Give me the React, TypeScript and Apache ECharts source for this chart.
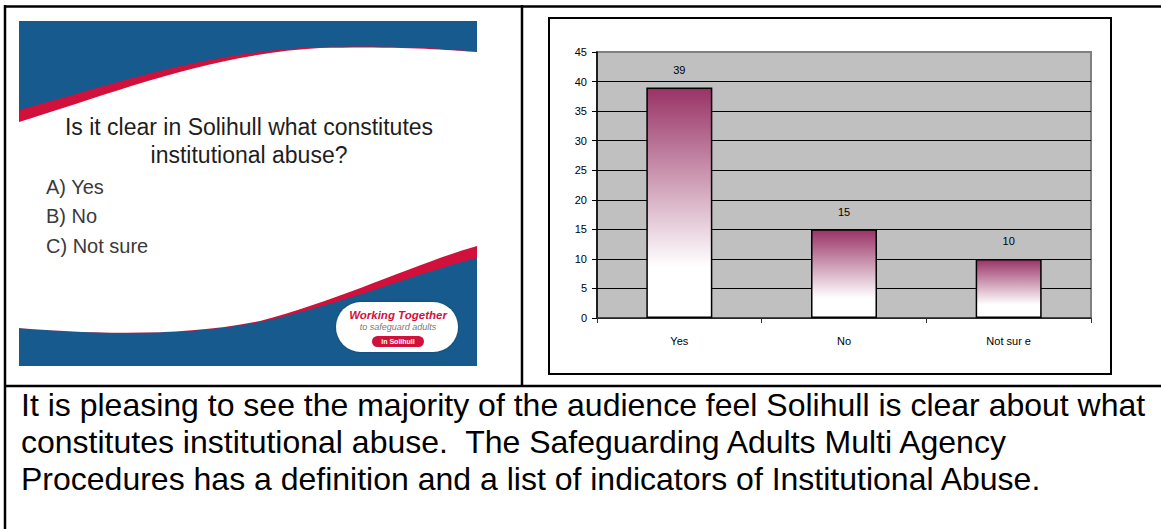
import React, { useEffect, useRef } from "react";
import * as echarts from "echarts";

const categories = ["Yes", "No", "Not sur e"];
const responses = [39, 15, 10];
const axisMin = 0;
const axisMax = 45;
const axisInterval = 5;

const slideQuestion = ["Is it clear in Solihull what constitutes", "institutional abuse?"];
const slideOptions = ["A) Yes", "B) No", "C) Not sure"];
const commentLines = [
  "It is pleasing to see the majority of the audience feel Solihull is clear about what",
  "constitutes institutional abuse.\u00A0 The Safeguarding Adults Multi Agency",
  "Procedures has a definition and a list of indicators of Institutional Abuse.",
];

const RED_D =
  "M19,110 C110,86 200,52 320,47 C400,45 450,49 477,52 L477,258 C420,272 340,305 260,322 C180,338 80,333 19,328 Z";
const WHITE_D =
  "M19,122 C110,94 210,54 320,48 C400,46 450,50 477,52 L477,246 C420,262 340,300 260,321 C180,338 80,333 19,328 Z";
echarts.graphic.registerShape("slideRed", echarts.graphic.extendPath(RED_D, {}));
echarts.graphic.registerShape("slideWhite", echarts.graphic.extendPath(WHITE_D, {}));

const FONT = '"Liberation Sans", Arial, sans-serif';

export default function App() {
  const ref = useRef<HTMLDivElement>(null);
  useEffect(() => {
    if (!ref.current) return;
    const chart = echarts.init(ref.current, undefined, { renderer: "svg" });
    const tickCount = (axisMax - axisMin) / axisInterval + 1;
    const splitColors = Array.from({ length: tickCount }, (_, i) => (i === tickCount - 1 ? "#808080" : "#000000"));

    const line = (x1: number, y1: number, x2: number, y2: number, w = 2.5) => ({
      type: "line",
      shape: { x1, y1, x2, y2 },
      style: { stroke: "#000", lineWidth: w },
      silent: true,
    });
    const text = (t: string, x: number, y: number, opts: any) => ({
      type: "text",
      x,
      y,
      style: { text: t, fontFamily: FONT, verticalAlign: "middle", ...opts },
      silent: true,
    });

    const graphics: any[] = [
      // table borders
      line(4, 6.5, 1161, 6.5),
      line(5, 5, 5, 529),
      line(522, 5, 522, 387),
      line(4, 386, 1161, 386),
      // slide
      { type: "rect", shape: { x: 19, y: 21, width: 458, height: 345 }, style: { fill: "#175B8E" }, silent: true },
      { type: "slideRed", x: 0, y: 0, style: { fill: "#D2103C" }, silent: true },
      { type: "slideWhite", x: 0, y: 0, style: { fill: "#FFFFFF" }, silent: true },
      text(slideQuestion[0], 249, 126.5, { fontSize: 23, fill: "#1E1E1E", align: "center" }),
      text(slideQuestion[1], 249, 155, { fontSize: 23, fill: "#1E1E1E", align: "center" }),
      ...slideOptions.map((o, i) => text(o, 46, 186.5 + i * 29.5, { fontSize: 20, fill: "#3A3A3A", align: "left" })),
      // logo
      {
        type: "rect",
        shape: { x: 336, y: 302, width: 122, height: 50, r: 25 },
        style: { fill: "#FFFFFF", shadowColor: "rgba(0,0,0,0.25)", shadowBlur: 3 },
        silent: true,
      },
      text("Working Together", 398, 315, { fontSize: 11.5, fontWeight: "bold", fontStyle: "italic", fill: "#D2103C", align: "center" }),
      text("to safeguard adults", 398, 327, { fontSize: 9, fontStyle: "italic", fill: "#7A7A7A", align: "center" }),
      { type: "rect", shape: { x: 372, y: 336, width: 52, height: 11, r: 5.5 }, style: { fill: "#D2103C" }, silent: true },
      text("in Solihull", 398, 341.5, { fontSize: 7, fontWeight: "bold", fill: "#FFFFFF", align: "center" }),
      // chart frame
      {
        type: "rect",
        shape: { x: 549, y: 18, width: 562, height: 356 },
        style: { fill: "none", stroke: "#000", lineWidth: 2 },
        silent: true,
      },
      // comment text
      ...commentLines.map((l, i) => text(l, 21, 405 + i * 37, { fontSize: 32, fill: "#000", align: "left" })),
    ];

    chart.setOption({
      animation: false,
      grid: {
        left: 597,
        top: 52,
        width: 494,
        height: 266,
        show: true,
        backgroundColor: "#C0C0C0",
        borderColor: "#808080",
        borderWidth: 2,
      },
      xAxis: {
        type: "category",
        data: categories,
        axisLine: { show: true, lineStyle: { color: "#333", width: 1.5 } },
        axisTick: { show: true, alignWithLabel: false, length: 5, lineStyle: { color: "#333" } },
        axisLabel: { fontSize: 11, color: "#000", fontFamily: FONT, margin: 17 },
        splitLine: { show: false },
      },
      yAxis: {
        type: "value",
        min: axisMin,
        max: axisMax,
        interval: axisInterval,
        axisLine: { show: true, lineStyle: { color: "#000", width: 1.5 } },
        axisTick: { show: true, length: 5, lineStyle: { color: "#000" } },
        axisLabel: { fontSize: 11, color: "#000", fontFamily: FONT, margin: 10 },
        splitLine: { show: true, lineStyle: { color: splitColors, width: 1 } },
      },
      series: [
        {
          type: "bar",
          data: responses,
          barWidth: 66,
          itemStyle: {
            color: new echarts.graphic.LinearGradient(0, 0, 0, 1, [
              { offset: 0, color: "#993366" },
              { offset: 0.78, color: "#FFFFFF" },
              { offset: 1, color: "#FFFFFF" },
            ]),
            borderColor: "#000",
            borderWidth: 1.5,
          },
          label: { show: true, position: "top", distance: 12, fontSize: 11, color: "#000", fontFamily: FONT },
        },
      ],
      graphic: graphics,
    });
    return () => chart.dispose();
  }, []);
  return (
    <div
      ref={ref}
      style={{ position: "absolute", left: 0, top: 0, width: 1161, height: 529, background: "#fff" }}
    />
  );
}
